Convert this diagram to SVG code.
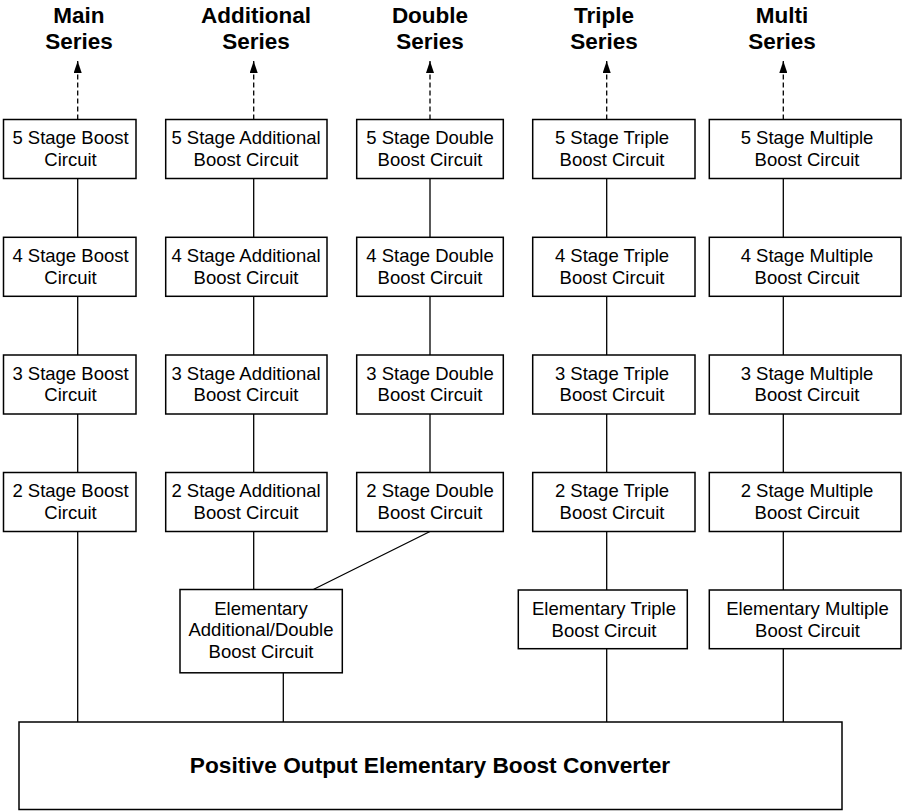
<svg xmlns="http://www.w3.org/2000/svg" width="903" height="811" viewBox="0 0 903 811">
  <style>
    .box { fill: #ffffff; stroke: #000000; stroke-width: 1.5; }
    .lbl { font-family: "Liberation Sans", Arial, Helvetica, sans-serif; font-size: 18.5px; fill: #000000; text-anchor: middle; }
    .hdr { font-family: "Liberation Sans", Arial, Helvetica, sans-serif; font-size: 22.5px; font-weight: bold; fill: #000000; text-anchor: middle; }
    .big { font-family: "Liberation Sans", Arial, Helvetica, sans-serif; font-size: 22.7px; font-weight: bold; fill: #000000; text-anchor: middle; }
    .wire { fill: none; stroke: #000000; stroke-width: 1.3; }
    .dash { fill: none; stroke: #000000; stroke-width: 1.3; stroke-dasharray: 5 3; }
  </style>
  <defs>
    <marker id="arrow" viewBox="0 0 12 8" refX="12" refY="4" markerWidth="12" markerHeight="8" markerUnits="userSpaceOnUse" orient="auto">
      <path d="M0,0 L12,4 L0,8 Z" fill="#000000"/>
    </marker>
  </defs>

  <!-- series headings -->
  <g id="headers">
    <text class="hdr" x="79" y="22.7">Main</text>
    <text class="hdr" x="79" y="49.3">Series</text>
    <text class="hdr" x="256" y="22.7">Additional</text>
    <text class="hdr" x="256" y="49.3">Series</text>
    <text class="hdr" x="430" y="22.7">Double</text>
    <text class="hdr" x="430" y="49.3">Series</text>
    <text class="hdr" x="604" y="22.7">Triple</text>
    <text class="hdr" x="604" y="49.3">Series</text>
    <text class="hdr" x="782" y="22.7">Multi</text>
    <text class="hdr" x="782" y="49.3">Series</text>
  </g>

  <!-- connectors -->
  <g id="connectors">
    <!-- continuation arrows above stage 5 -->
    <line class="dash" x1="77.7" y1="119.5" x2="77.7" y2="61" marker-end="url(#arrow)"/>
    <line class="dash" x1="253.7" y1="119.5" x2="253.7" y2="61" marker-end="url(#arrow)"/>
    <line class="dash" x1="430" y1="119.5" x2="430" y2="61" marker-end="url(#arrow)"/>
    <line class="dash" x1="606.7" y1="119.5" x2="606.7" y2="61" marker-end="url(#arrow)"/>
    <line class="dash" x1="783.3" y1="119.5" x2="783.3" y2="61" marker-end="url(#arrow)"/>

    <!-- stage-to-stage links -->
    <path class="wire" d="M77.7,178.5 V237.3 M77.7,296.3 V355 M77.7,414 V472.5 M77.7,531.5 V722"/>
    <path class="wire" d="M253.7,178.5 V237.3 M253.7,296.3 V355 M253.7,414 V472.5 M253.7,531.5 V589.5"/>
    <path class="wire" d="M430,178.5 V237.3 M430,296.3 V355 M430,414 V472.5 M430,531.5 L313.3,589.5"/>
    <path class="wire" d="M606.7,178.5 V237.3 M606.7,296.3 V355 M606.7,414 V472.5 M606.7,531.5 V590 M606.7,648.7 V722"/>
    <path class="wire" d="M783.3,178.5 V237.3 M783.3,296.3 V355 M783.3,414 V472.5 M783.3,531.5 V590 M783.3,648.7 V722"/>
    <path class="wire" d="M283.3,673 V722"/>
  </g>

  <!-- main series -->
  <g id="main5"><rect class="box" x="3.5" y="119.5" width="132.5" height="59"/><text class="lbl" x="70.5" y="144">5 Stage Boost</text><text class="lbl" x="70.5" y="165.8">Circuit</text></g>
  <g id="main4"><rect class="box" x="3.5" y="237.3" width="132.5" height="59"/><text class="lbl" x="70.5" y="261.8">4 Stage Boost</text><text class="lbl" x="70.5" y="283.6">Circuit</text></g>
  <g id="main3"><rect class="box" x="3.5" y="355" width="132.5" height="59"/><text class="lbl" x="70.5" y="379.5">3 Stage Boost</text><text class="lbl" x="70.5" y="401.3">Circuit</text></g>
  <g id="main2"><rect class="box" x="3.5" y="472.5" width="132.5" height="59"/><text class="lbl" x="70.5" y="497">2 Stage Boost</text><text class="lbl" x="70.5" y="518.8">Circuit</text></g>

  <!-- additional series -->
  <g id="add5"><rect class="box" x="165.7" y="119.5" width="161.3" height="59"/><text class="lbl" x="246" y="144">5 Stage Additional</text><text class="lbl" x="246" y="165.8">Boost Circuit</text></g>
  <g id="add4"><rect class="box" x="165.7" y="237.3" width="161.3" height="59"/><text class="lbl" x="246" y="261.8">4 Stage Additional</text><text class="lbl" x="246" y="283.6">Boost Circuit</text></g>
  <g id="add3"><rect class="box" x="165.7" y="355" width="161.3" height="59"/><text class="lbl" x="246" y="379.5">3 Stage Additional</text><text class="lbl" x="246" y="401.3">Boost Circuit</text></g>
  <g id="add2"><rect class="box" x="165.7" y="472.5" width="161.3" height="59"/><text class="lbl" x="246" y="497">2 Stage Additional</text><text class="lbl" x="246" y="518.8">Boost Circuit</text></g>

  <!-- double series -->
  <g id="dbl5"><rect class="box" x="356.7" y="119.5" width="146.6" height="59"/><text class="lbl" x="430" y="144">5 Stage Double</text><text class="lbl" x="430" y="165.8">Boost Circuit</text></g>
  <g id="dbl4"><rect class="box" x="356.7" y="237.3" width="146.6" height="59"/><text class="lbl" x="430" y="261.8">4 Stage Double</text><text class="lbl" x="430" y="283.6">Boost Circuit</text></g>
  <g id="dbl3"><rect class="box" x="356.7" y="355" width="146.6" height="59"/><text class="lbl" x="430" y="379.5">3 Stage Double</text><text class="lbl" x="430" y="401.3">Boost Circuit</text></g>
  <g id="dbl2"><rect class="box" x="356.7" y="472.5" width="146.6" height="59"/><text class="lbl" x="430" y="497">2 Stage Double</text><text class="lbl" x="430" y="518.8">Boost Circuit</text></g>

  <!-- triple series -->
  <g id="tri5"><rect class="box" x="532.7" y="119.5" width="162.3" height="59"/><text class="lbl" x="612" y="144">5 Stage Triple</text><text class="lbl" x="612" y="165.8">Boost Circuit</text></g>
  <g id="tri4"><rect class="box" x="532.7" y="237.3" width="162.3" height="59"/><text class="lbl" x="612" y="261.8">4 Stage Triple</text><text class="lbl" x="612" y="283.6">Boost Circuit</text></g>
  <g id="tri3"><rect class="box" x="532.7" y="355" width="162.3" height="59"/><text class="lbl" x="612" y="379.5">3 Stage Triple</text><text class="lbl" x="612" y="401.3">Boost Circuit</text></g>
  <g id="tri2"><rect class="box" x="532.7" y="472.5" width="162.3" height="59"/><text class="lbl" x="612" y="497">2 Stage Triple</text><text class="lbl" x="612" y="518.8">Boost Circuit</text></g>

  <!-- multiple series -->
  <g id="mul5"><rect class="box" x="709.3" y="119.5" width="191.7" height="59"/><text class="lbl" x="807" y="144">5 Stage Multiple</text><text class="lbl" x="807" y="165.8">Boost Circuit</text></g>
  <g id="mul4"><rect class="box" x="709.3" y="237.3" width="191.7" height="59"/><text class="lbl" x="807" y="261.8">4 Stage Multiple</text><text class="lbl" x="807" y="283.6">Boost Circuit</text></g>
  <g id="mul3"><rect class="box" x="709.3" y="355" width="191.7" height="59"/><text class="lbl" x="807" y="379.5">3 Stage Multiple</text><text class="lbl" x="807" y="401.3">Boost Circuit</text></g>
  <g id="mul2"><rect class="box" x="709.3" y="472.5" width="191.7" height="59"/><text class="lbl" x="807" y="497">2 Stage Multiple</text><text class="lbl" x="807" y="518.8">Boost Circuit</text></g>

  <!-- elementary circuits -->
  <g id="elemAddDbl"><rect class="box" x="180" y="589.5" width="162.3" height="83.3"/><text class="lbl" x="261" y="615">Elementary</text><text class="lbl" x="261" y="636.3">Additional/Double</text><text class="lbl" x="261" y="657.6">Boost Circuit</text></g>
  <g id="elemTriple"><rect class="box" x="518.3" y="590" width="169" height="58.7"/><text class="lbl" x="604" y="615">Elementary Triple</text><text class="lbl" x="604" y="636.5">Boost Circuit</text></g>
  <g id="elemMultiple"><rect class="box" x="709.3" y="590" width="191.7" height="58.7"/><text class="lbl" x="807.5" y="615">Elementary Multiple</text><text class="lbl" x="807.5" y="636.5">Boost Circuit</text></g>

  <!-- base converter -->
  <g id="converter"><rect class="box" x="19" y="722" width="823" height="87.5"/><text class="big" x="430" y="773.3">Positive Output Elementary Boost Converter</text></g>
</svg>
